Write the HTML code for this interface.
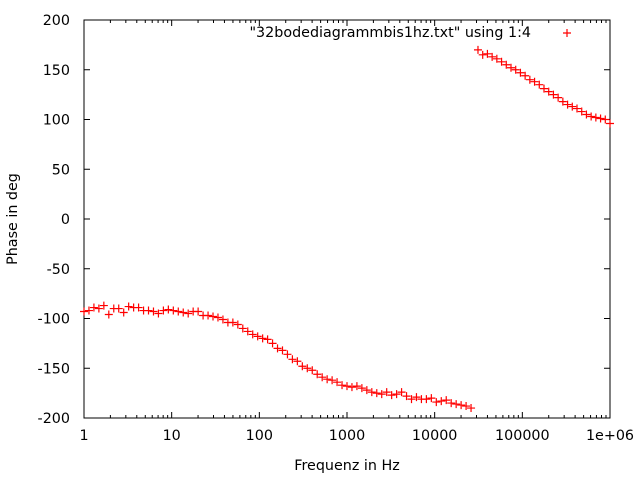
<!DOCTYPE html>
<html><head><meta charset="utf-8">
<style>
body{margin:0;background:#fff;}
svg text{font-family:"DejaVu Sans","Liberation Sans",sans-serif;font-size:14.3px;fill:#000;}
</style></head>
<body>
<svg id="chart" width="640" height="480">
<g id="axes"></g>
<g id="marks"></g>
</svg>
<script>
const yTicks=[-200,-150,-100,-50,0,50,100,150,200];
const xTickLabels=["1","10","100","1000","10000","100000","1e+06"];
const lowStartFreq=1, lowEndFreq=26000;
const lowPhase=[-93,-92,-89,-90,-87,-96,-90,-90,-94,-88,-89,-89,-92,-92,-93,-95,-92,-91,
-92,-93,-94,-95,-93,-93,-97,-97,-98,-99,-101,-104,-104,-106,-110,-113,-116,-118,
-120,-121,-125,-130,-132,-136,-141,-143,-148,-150,-152,-156,-159,-161,-162,-164,-167,-168,
-169,-168,-170,-172,-174,-175,-176,-174,-177,-176,-174,-178,-181,-179,-181,-181,-180,-184,
-183,-182,-185,-186,-187,-188,-190];
const highStartFreq=31200, highEndFreq=1000000;
const highPhase=[170,165,166,163,161,158,155,152,150,147,144,140,138,135,131,128,125,122,118,115,113,111,108,105,103,102,101,100,96];

const L=84,R=610,T=20,B=418;
const xs=f=>L+(Math.log10(f)-0)/6*(R-L);
const ys=v=>B-(v+200)/400*(B-T);
const NS="http://www.w3.org/2000/svg";
const ax=document.getElementById('axes'), mk=document.getElementById('marks');
function el(tag,attrs,parent){const e=document.createElementNS(NS,tag);for(const k in attrs)e.setAttribute(k,attrs[k]);parent.appendChild(e);return e;}
const frame=el('rect',{x:L,y:T,width:R-L,height:B-T,fill:'none',stroke:'#000','stroke-width':1},ax);


yTicks.forEach(v=>{
  const y=ys(v);
  el('line',{x1:L,y1:y,x2:L+6,y2:y,stroke:'#000'},ax);
  el('line',{x1:R,y1:y,x2:R-6,y2:y,stroke:'#000'},ax);
  const t=el('text',{x:L-14,y:y+5,'text-anchor':'end'},ax);t.textContent=v;
  
  
});
xTickLabels.forEach((lab,i)=>{
  const x=xs(Math.pow(10,i));
  el('line',{x1:x,y1:B,x2:x,y2:B-6,stroke:'#000'},ax);
  el('line',{x1:x,y1:T,x2:x,y2:T+6,stroke:'#000'},ax);
  const t=el('text',{x:x,y:B+22,'text-anchor':'middle'},ax);t.textContent=lab;
  
  
  if(i<6)for(let m=2;m<10;m++){const xm=xs(m*Math.pow(10,i));
    el('line',{x1:xm,y1:B,x2:xm,y2:B-3,stroke:'#000'},ax);
    el('line',{x1:xm,y1:T,x2:xm,y2:T+3,stroke:'#000'},ax);}
});
const xt=el('text',{x:(L+R)/2,y:470,'text-anchor':'middle'},ax);xt.textContent='Frequenz in Hz';


const yt=el('text',{x:17,y:(T+B)/2,'text-anchor':'middle',transform:'rotate(-90 17 '+((T+B)/2)+')'},ax);yt.textContent='Phase in deg';


const lg=el('text',{x:531,y:37,'text-anchor':'end'},ax);lg.textContent='"32bodediagrammbis1hz.txt" using 1:4';


function plus(x,y,name){const g=el('path',{d:`M${x-4},${y}h8M${x},${y-4}v8`,stroke:'#f00','stroke-width':1.2,fill:'none'},mk);
  
  }
plus(567,33,'legend-marker');
function series(arr,f0,f1){const n=arr.length;const r=Math.log10(f1/f0)/(n-1);
  arr.forEach((v,i)=>plus(xs(f0*Math.pow(10,r*i)),ys(v),'data-point'));}
series(lowPhase,lowStartFreq,lowEndFreq);
series(highPhase,highStartFreq,highEndFreq);
</script>
</body></html>
